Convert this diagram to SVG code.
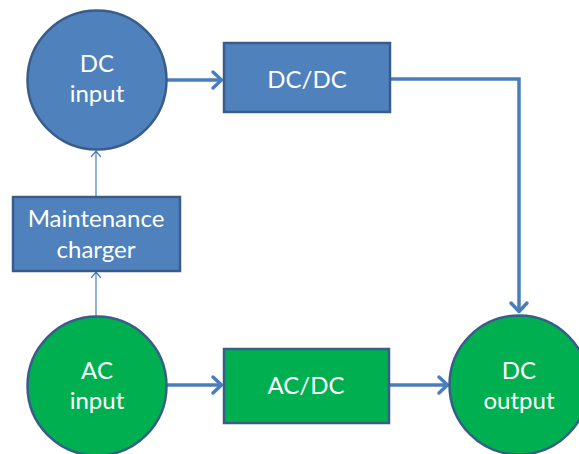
<svg xmlns="http://www.w3.org/2000/svg" width="579" height="454" viewBox="0 0 579 454">
<style>
.blue{fill:#4F81BD;stroke:#385D8A;stroke-width:2.5}
.green{fill:#00B050;stroke:#385D8A;stroke-width:2.5}
.t{font-family:Lato,"Liberation Sans",sans-serif;font-size:24px;fill:#fff;text-anchor:middle}
.c{fill:none;stroke:#4A7EBB;stroke-width:3.5}
.thin{fill:none;stroke:#4A7EBB;stroke-width:1.2}
</style>
<defs>
<marker id="big" viewBox="0 0 16 16" refX="15" refY="8" markerWidth="16" markerHeight="16" markerUnits="userSpaceOnUse" orient="auto" overflow="visible">
<path d="M6,0 L14.5,8 L6,16" fill="none" stroke="#4A7EBB" stroke-width="3.5" stroke-linecap="round" stroke-linejoin="round"/>
</marker>
<marker id="small" viewBox="0 0 10 10" refX="9.5" refY="5" markerWidth="10" markerHeight="10" markerUnits="userSpaceOnUse" orient="auto" overflow="visible">
<path d="M4,0.5 L9.5,5 L4,9.5" fill="none" stroke="#4A7EBB" stroke-width="1.2" stroke-linecap="round" stroke-linejoin="round"/>
</marker>
</defs>
<g id="connectors">
<path class="c" d="M167,80 L222,80" marker-end="url(#big)"/>
<path class="c" d="M390,79 L519,79 L519,312" marker-end="url(#big)"/>
<path class="c" d="M167,385 L222,385" marker-end="url(#big)"/>
<path class="c" d="M390,385 L448,385" marker-end="url(#big)"/>
<path class="thin" d="M96,197 L96,151" marker-end="url(#small)"/>
<path class="thin" d="M96,316 L96,272" marker-end="url(#small)"/>
</g>
<g id="dc-input">
<circle class="blue" cx="97" cy="80" r="69.5"/>
<text class="t" x="97" y="72">DC</text>
<text class="t" x="97" y="102">input</text>
</g>
<g id="dc-dc">
<rect class="blue" x="224" y="43" width="166" height="69"/>
<text class="t" x="307" y="88">DC/DC</text>
</g>
<g id="maintenance-charger">
<rect class="blue" x="13" y="197" width="167" height="74"/>
<text class="t" x="96" y="227">Maintenance</text>
<text class="t" x="96" y="258">charger</text>
</g>
<g id="ac-input">
<circle class="green" cx="97" cy="386" r="69.5"/>
<text class="t" x="97" y="379">AC</text>
<text class="t" x="97" y="409">input</text>
</g>
<g id="ac-dc">
<rect class="green" x="224" y="349" width="165" height="74"/>
<text class="t" x="306" y="394">AC/DC</text>
</g>
<g id="dc-output">
<circle class="green" cx="519" cy="385" r="69.5"/>
<text class="t" x="519" y="379">DC</text>
<text class="t" x="519" y="409">output</text>
</g>
</svg>
